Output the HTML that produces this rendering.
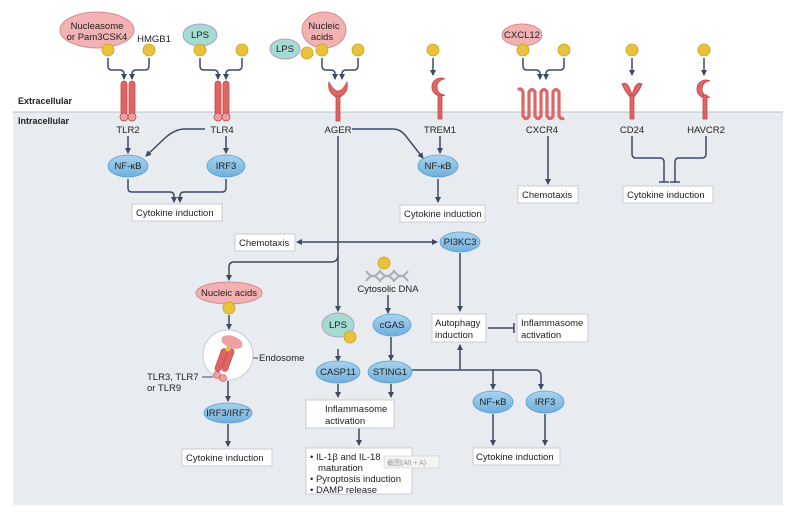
<!DOCTYPE html>
<html><head><meta charset="utf-8"><style>
html,body{margin:0;padding:0;background:#fff;}
svg{display:block;font-family:"Liberation Sans",sans-serif;}
</style></head><body>
<svg width="800" height="526" viewBox="0 0 800 526" xmlns="http://www.w3.org/2000/svg">
<defs>
<marker id="a" markerWidth="6" markerHeight="6" refX="5" refY="3" orient="auto" markerUnits="userSpaceOnUse"><path d="M0,0 L6,3 L0,6 z" fill="#3d4a63"/></marker>
<linearGradient id="bl" x1="0" y1="0" x2="0" y2="1"><stop offset="0" stop-color="#a9d3ef"/><stop offset="1" stop-color="#6fb0dc"/></linearGradient>
</defs>
<rect x="13" y="112" width="770" height="393" fill="#e8ebf0"/>
<line x1="13" y1="112" x2="783" y2="112" stroke="#b9c0cc" stroke-width="1"/>
<text x="18" y="104" font-size="9" font-weight="bold" fill="#222">Extracellular</text>
<text x="18" y="124" font-size="9" font-weight="bold" fill="#222">Intracellular</text>

<g fill="#f2b1b3" stroke="#d68a8e">
<ellipse cx="97" cy="30" rx="37" ry="18"/>
<ellipse cx="324" cy="30" rx="22" ry="18"/>
<ellipse cx="522" cy="35" rx="20" ry="11"/>
<ellipse cx="229" cy="293" rx="33" ry="11"/>
</g>
<g fill="#a4dcd4" stroke="#b59bc6">
<ellipse cx="200" cy="35" rx="17" ry="11"/>
<ellipse cx="285" cy="49" rx="15" ry="10"/>
<ellipse cx="338" cy="325" rx="16" ry="12"/>
</g>
<g font-size="9.5" fill="#222" text-anchor="middle">
<text x="97" y="29">Nucleasome</text><text x="97" y="40">or Pam3CSK4</text>
<text x="154" y="42">HMGB1</text>
<text x="200" y="38">LPS</text><text x="285" y="52">LPS</text>
<text x="324" y="29">Nucleic</text><text x="322" y="40">acids</text>
<text x="522" y="38">CXCL12</text>
<text x="229" y="296">Nucleic acids</text>
<text x="338" y="328">LPS</text>
</g>
<g fill="#e8c23a" stroke="#c9a020" stroke-width="0.8">
<circle cx="108" cy="50" r="6"/><circle cx="149" cy="50" r="6"/>
<circle cx="200" cy="50" r="6"/><circle cx="242" cy="50" r="6"/>
<circle cx="307" cy="53" r="6"/><circle cx="322" cy="50" r="6"/><circle cx="358" cy="50" r="6"/>
<circle cx="433" cy="50" r="6"/><circle cx="523" cy="50" r="6"/><circle cx="564" cy="50" r="6"/>
<circle cx="632" cy="50" r="6"/><circle cx="704" cy="50" r="6"/>
<circle cx="229" cy="308" r="6"/><circle cx="384" cy="263" r="6"/><circle cx="350" cy="337" r="6"/>
</g>

<g fill="none" stroke="#3d4a63" stroke-width="1.5" marker-end="url(#a)">
<path d="M108,58 V66 Q108,70 112,70 H120 Q124,70 124,74 V79"/>
<path d="M149,58 V66 Q149,70 145,70 H136 Q132,70 132,74 V79"/>
<path d="M200,58 V66 Q200,70 204,70 H214 Q218,70 218,74 V79"/>
<path d="M242,58 V66 Q242,70 238,70 H230 Q226,70 226,74 V79"/>
<path d="M322,58 V66 Q322,70 326,70 H331 Q335,70 335,74 V79"/>
<path d="M358,58 V66 Q358,70 354,70 H346 Q342,70 342,74 V79"/>
<path d="M433,58 V75"/>
<path d="M523,58 V66 Q523,70 527,70 H536 Q540,70 540,74 V79"/>
<path d="M564,58 V66 Q564,70 560,70 H550 Q546,70 546,74 V79"/>
<path d="M632,58 V75"/><path d="M704,58 V75"/>
<path d="M128,136 V153"/><path d="M226,136 V153"/>
<path d="M205,129 H185 Q175,129 165,138 L146,156"/>
<path d="M128,179 V188 Q128,192 132,192 H170 Q174,192 174,196 V202"/>
<path d="M226,179 V188 Q226,192 222,192 H184 Q180,192 180,196 V202"/>
<path d="M440,136 V153"/><path d="M438,179 V202"/>
<path d="M352,129 H393 Q400,129 405,135 L423,158"/>
<path d="M548,136 V184"/>
<path d="M338,242 H297"/><path d="M338,242 H437"/>
<path d="M338,136 V311"/>
<path d="M338,255 Q338,262 331,262 H234 Q229,262 229,267 V280"/>
<path d="M229,315 V329"/><path d="M228,381 V401"/><path d="M228,424 V446"/>
<path d="M388,295 V313"/><path d="M391,337 V360"/>
<path d="M338,349 V361"/><path d="M338,384 V397"/><path d="M391,384 V397"/>
<path d="M359,428 V445"/>
<path d="M460,253 V311"/>
<path d="M460,370 V345"/>
<path d="M412,370 H535 Q541,370 541,376 V389"/>
<path d="M493,370 V389"/>
<path d="M493,414 V445"/><path d="M545,414 V445"/>
</g>
<g fill="none" stroke="#3d4a63" stroke-width="1.5">
<path d="M632,136 V154 Q632,158 636,158 H660 Q664,158 664,162 V182"/>
<path d="M706,136 V154 Q706,158 702,158 H679 Q675,158 675,162 V182"/>
<path d="M659,182 H669 M670,182 H680"/>
<path d="M488,328 H514 M514,323 V333"/>
</g>

<!-- receptors -->
<g fill="#df6565" stroke="#c04848" stroke-width="0.8">
<rect x="121" y="81" width="6" height="34" rx="3"/><rect x="129" y="81" width="6" height="34" rx="3"/>
<circle cx="124" cy="117" r="4" fill="#eea0a0"/><circle cx="132" cy="117" r="4" fill="#eea0a0"/>
<rect x="215" y="81" width="6" height="34" rx="3"/><rect x="223" y="81" width="6" height="34" rx="3"/>
<circle cx="218" cy="117" r="4" fill="#eea0a0"/><circle cx="226" cy="117" r="4" fill="#eea0a0"/>
<path d="M329,82 Q338,100 347,82 Q349,92 340,97 H336 Q327,92 329,82 z"/>
<rect x="336" y="96" width="4" height="25"/>
<path d="M445,79 A9,9 0 1 0 445,95 A6,6 0 1 1 445,79 z"/>
<rect x="438" y="95" width="4" height="24"/>
<path d="M622,84 Q628,80 632,95 Q636,80 642,84 Q640,90 634,97 H630 Q624,90 622,84 z"/>
<rect x="630" y="95" width="4" height="24"/>
<path d="M710,81 A9,9 0 1 0 710,97 A5,5 0 1 1 710,81 z"/>
<rect x="703" y="95" width="4" height="24"/>
</g>
<path d="M518,90 Q521,87 523,92 V116 Q526,121 529,116 V92 Q532,87 535,92 V116 Q538,121 541,116 V92 Q544,87 547,92 V116 Q550,121 553,116 V92 Q556,87 559,92 V116 Q561,120 564,118" fill="none" stroke="#df6565" stroke-width="3.2"/>
<g font-size="9.5" fill="#222" text-anchor="middle">
<text x="128" y="133">TLR2</text><text x="222" y="133">TLR4</text><text x="338" y="133">AGER</text>
<text x="440" y="133">TREM1</text><text x="542" y="133">CXCR4</text><text x="632" y="133">CD24</text><text x="706" y="133">HAVCR2</text>
</g>

<!-- blue ellipses -->
<g fill="url(#bl)" stroke="#5a9ccc" stroke-width="0.8">
<ellipse cx="128" cy="166" rx="20" ry="11"/><ellipse cx="226" cy="166" rx="19" ry="11"/>
<ellipse cx="438" cy="166" rx="20" ry="11"/>
<ellipse cx="460" cy="242" rx="20" ry="10"/>
<ellipse cx="228" cy="413" rx="24" ry="10"/>
<ellipse cx="392" cy="325" rx="19" ry="11"/>
<ellipse cx="390" cy="372" rx="22" ry="11"/>
<ellipse cx="338" cy="372" rx="22" ry="11"/>
<ellipse cx="493" cy="402" rx="20" ry="11"/>
<ellipse cx="545" cy="402" rx="19" ry="11"/>
</g>
<g font-size="9.5" fill="#222" text-anchor="middle">
<text x="128" y="169">NF-κB</text><text x="226" y="169">IRF3</text><text x="438" y="169">NF-κB</text>
<text x="460" y="245">PI3KC3</text><text x="228" y="416">IRF3/IRF7</text><text x="392" y="328">cGAS</text>
<text x="390" y="375">STING1</text><text x="338" y="375">CASP11</text>
<text x="493" y="405">NF-κB</text><text x="545" y="405">IRF3</text>
</g>

<!-- boxes -->
<g fill="#fff" stroke="#c8ccd4" stroke-width="1">
<rect x="132" y="204" width="90" height="17"/>
<rect x="400" y="205" width="85" height="17"/>
<rect x="518" y="186" width="60" height="17"/>
<rect x="623" y="186" width="90" height="17"/>
<rect x="235" y="234" width="60" height="17"/>
<rect x="182" y="449" width="90" height="17"/>
<rect x="306" y="400" width="88" height="28"/>
<rect x="306" y="448" width="106" height="46"/>
<rect x="432" y="314" width="54" height="28"/>
<rect x="517" y="314" width="71" height="28"/>
<rect x="473" y="448" width="87" height="17"/>
</g>
<g font-size="9.5" fill="#222">
<text x="136" y="216">Cytokine induction</text>
<text x="404" y="217">Cytokine induction</text>
<text x="522" y="198">Chemotaxis</text>
<text x="627" y="198">Cytokine induction</text>
<text x="239" y="246">Chemotaxis</text>
<text x="186" y="461">Cytokine induction</text>
<text x="325" y="412">Inflammasome</text><text x="325" y="424">activation</text>
<text x="310" y="460">• IL-1β and IL-18</text><text x="318" y="471">maturation</text>
<text x="310" y="482">• Pyroptosis induction</text><text x="310" y="493">• DAMP release</text>
<text x="435" y="326">Autophagy</text><text x="435" y="338">induction</text>
<text x="521" y="326">Inflammasome</text><text x="521" y="338">activation</text>
<text x="476" y="460">Cytokine induction</text>
</g>
<rect x="384" y="456" width="55" height="12" fill="#f4f4f4" stroke="#ccc" stroke-width="0.6"/>
<text x="387" y="465" font-size="7" fill="#999" font-family="'Liberation Sans','Noto Sans CJK SC',sans-serif">截图(Alt + A)</text>

<!-- DNA helix -->
<g fill="none" stroke="#a9aeb8" stroke-width="2">
<path d="M366,271 Q373,281 380,271 Q387,281 394,271 Q401,281 408,271"/>
<path d="M366,281 Q373,271 380,281 Q387,271 394,281 Q401,271 408,281"/>
</g>
<text x="388" y="292" font-size="9.5" fill="#222" text-anchor="middle">Cytosolic DNA</text>

<!-- endosome -->
<circle cx="228" cy="355" r="25" fill="#fff" stroke="#c8ccd4"/>
<ellipse cx="232" cy="342" rx="11" ry="6" fill="#eea0a0" transform="rotate(20 232 342)"/>
<g fill="#df6565" stroke="#c04848" stroke-width="0.6">
<rect x="218" y="348" width="6" height="24" rx="3" transform="rotate(20 221 360)"/>
<rect x="225" y="348" width="6" height="24" rx="3" transform="rotate(20 228 360)"/>
</g>
<circle cx="217" cy="375" r="3.5" fill="#eea0a0" stroke="#c04848" stroke-width="0.6"/>
<circle cx="223" cy="378" r="3.5" fill="#eea0a0" stroke="#c04848" stroke-width="0.6"/>
<circle cx="228" cy="349" r="2.5" fill="#e8c23a"/>
<line x1="253" y1="358" x2="258" y2="358" stroke="#3d4a63"/>
<text x="259" y="361" font-size="9.5" fill="#222">Endosome</text>
<line x1="202" y1="377" x2="213" y2="377" stroke="#3d4a63"/>
<text x="147" y="380" font-size="9.5" fill="#222">TLR3, TLR7</text>
<text x="147" y="391" font-size="9.5" fill="#222">or TLR9</text>
</svg>
</body></html>
